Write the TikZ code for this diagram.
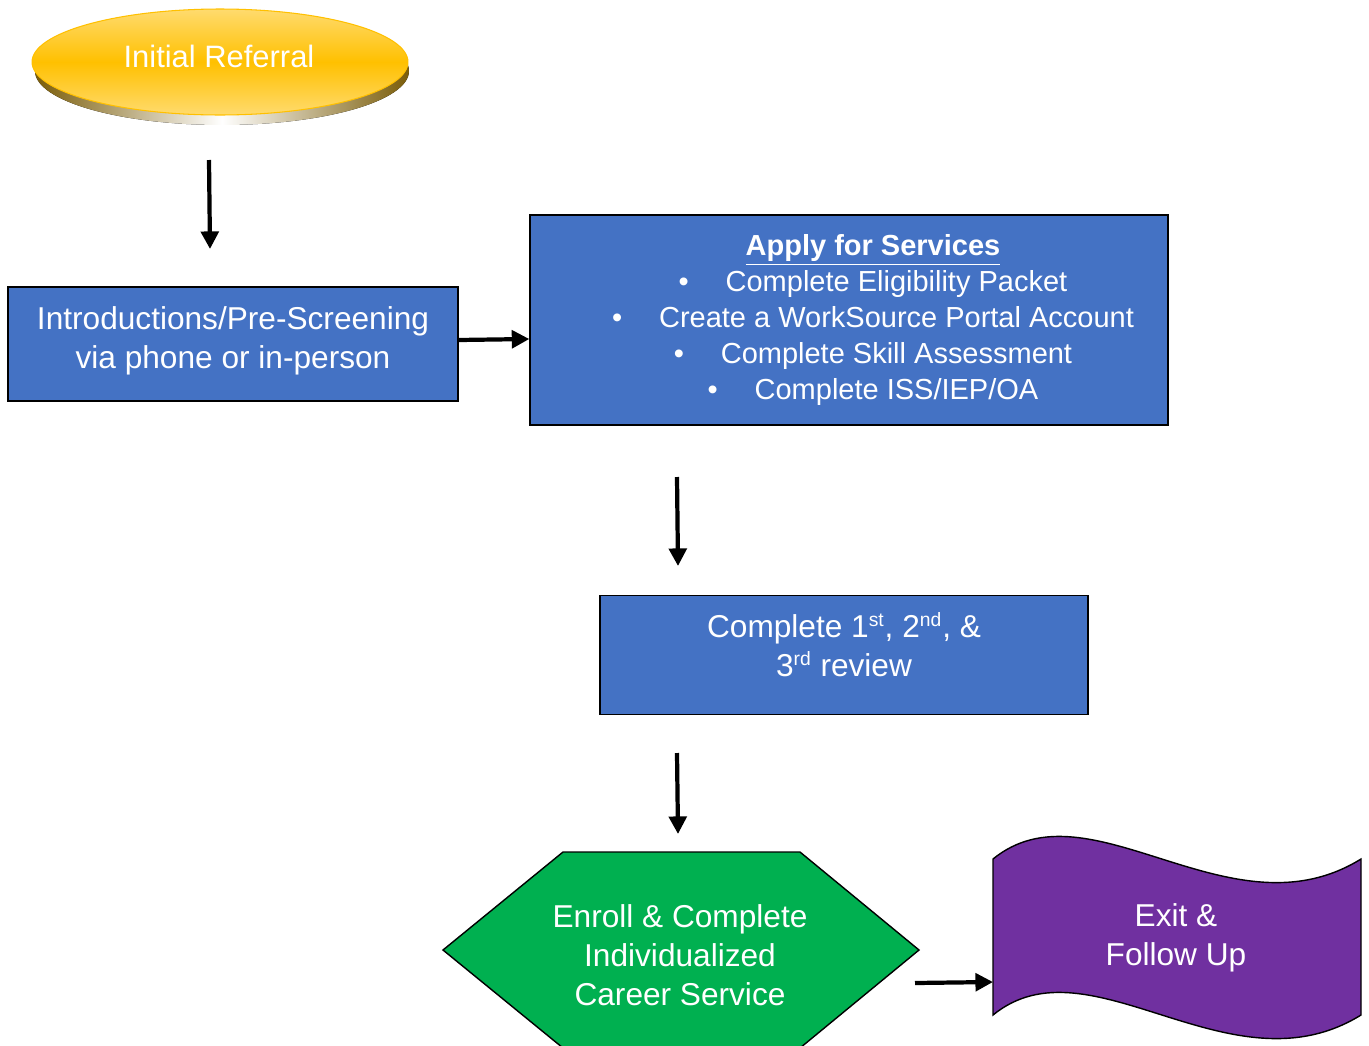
\documentclass[tikz,border=0pt]{standalone}
\usepackage{fontspec}
\setmainfont{Liberation Sans}
\usetikzlibrary{arrows.meta,shapes.geometric}

\definecolor{boxblue}{HTML}{4472C4}
\definecolor{enrollgreen}{HTML}{00B050}
\definecolor{exitpurple}{HTML}{7030A0}
\definecolor{refgold}{HTML}{FFC000}
\definecolor{refpale}{HTML}{FFDB6E}
\definecolor{refshade}{HTML}{7A5C08}

\newcommand{\ordsup}[1]{\textsuperscript{\fontsize{11}{11}\selectfont #1}}

\begin{document}
\begin{tikzpicture}[
	x=0.02cm, y=-0.02cm,
	oval/.style={ellipse, draw=refgold, line width=0.6pt, top color=refpale, bottom color=refpale, middle color=refgold,
		minimum width=7.52cm, minimum height=2.12cm, inner sep=0pt},
	box/.style={draw=black, line width=0.8pt, fill=boxblue, inner sep=0pt},
	label/.style={text=white, align=center, inner sep=0pt, font=\fontsize{18}{22.2}\selectfont},
	flow/.style={-{Triangle[length=10pt,width=10pt]}, line width=2.4pt},
	]
	\useasboundingbox (0,0) rectangle (1369,1045);
	
	%-----------------------
	% Initial referral (oval with shadow)
	%-----------------------
	\fill[left color=refshade, right color=refshade, middle color=white]
		(222,71) ellipse [x radius=3.74cm, y radius=1.08cm];
	\node[oval] (referral) at (220,62) {};
	\node[label, font=\fontsize{17.6}{21}\selectfont] (referral-txt) at (219,56) {Initial Referral};
	
	%-----------------------
	% Blue boxes
	%-----------------------
	\node[box, minimum width=9cm, minimum height=2.28cm] (intro) at (233,344) {};
	\node[label] (intro-txt) at (233,341) {Introductions/Pre-Screening\\via phone or in-person};
	
	\node[box, minimum width=12.76cm, minimum height=4.2cm] (apply) at (849,320) {};
	\node[label, font=\fontsize{16.5}{20.4}\selectfont] (apply-txt) at (873,320)
		{\underline{\textbf{Apply for Services}}\\
		 \makebox[0.94cm][l]{\textbullet}Complete Eligibility Packet\\
		 \makebox[0.94cm][l]{\textbullet}Create a WorkSource Portal Account\\
		 \makebox[0.94cm][l]{\textbullet}Complete Skill Assessment\\
		 \makebox[0.94cm][l]{\textbullet}Complete ISS/IEP/OA};
	
	\node[box, minimum width=9.76cm, minimum height=2.38cm] (review) at (844,655) {};
	\node[label] (review-txt) at (844,645)
		{Complete 1\ordsup{st}, 2\ordsup{nd}, \&\\3\ordsup{rd} review};
	
	%-----------------------
	% Enroll (hexagon)
	%-----------------------
	\draw[fill=enrollgreen, line width=0.8pt]
		(563,852) -- (800,852) -- (919,950) -- (800,1048) -- (563,1048) -- (443,950) -- cycle;
	\node[label] (enroll) at (680,955) {Enroll \& Complete\\Individualized\\Career Service};
	
	%-----------------------
	% Exit (wave)
	%-----------------------
	\draw[fill=exitpurple, line width=0.8pt]
		(993,859) .. controls (1090,780) and (1230,940) .. (1361,859)
		-- (1361,1015) .. controls (1230,1096) and (1090,936) .. (993,1015) -- cycle;
	\node[label] (exit) at (1176,938) {Exit \&\\Follow Up};
	
	%-----------------------
	% Connections
	%-----------------------
	\coordinate (a1-top) at (209,160);
	\coordinate (a1-end) at (210,249);
	\coordinate (a3-top) at (677,477);
	\coordinate (a3-end) at (678,566);
	\coordinate (a4-top) at (677,753);
	\coordinate (a4-end) at (678,834);
	\coordinate (a5-start) at (915,983);
	\coordinate (wave-in) at (993,982);
	
	\draw[flow] (a1-top) -- (a1-end);
	\draw[flow] (intro.east |- 0,340) -- (apply.west |- 0,339);
	\draw[flow] (a3-top) -- (a3-end);
	\draw[flow] (a4-top) -- (a4-end);
	\draw[flow] (a5-start) -- (wave-in);
	
\end{tikzpicture}
\end{document}
